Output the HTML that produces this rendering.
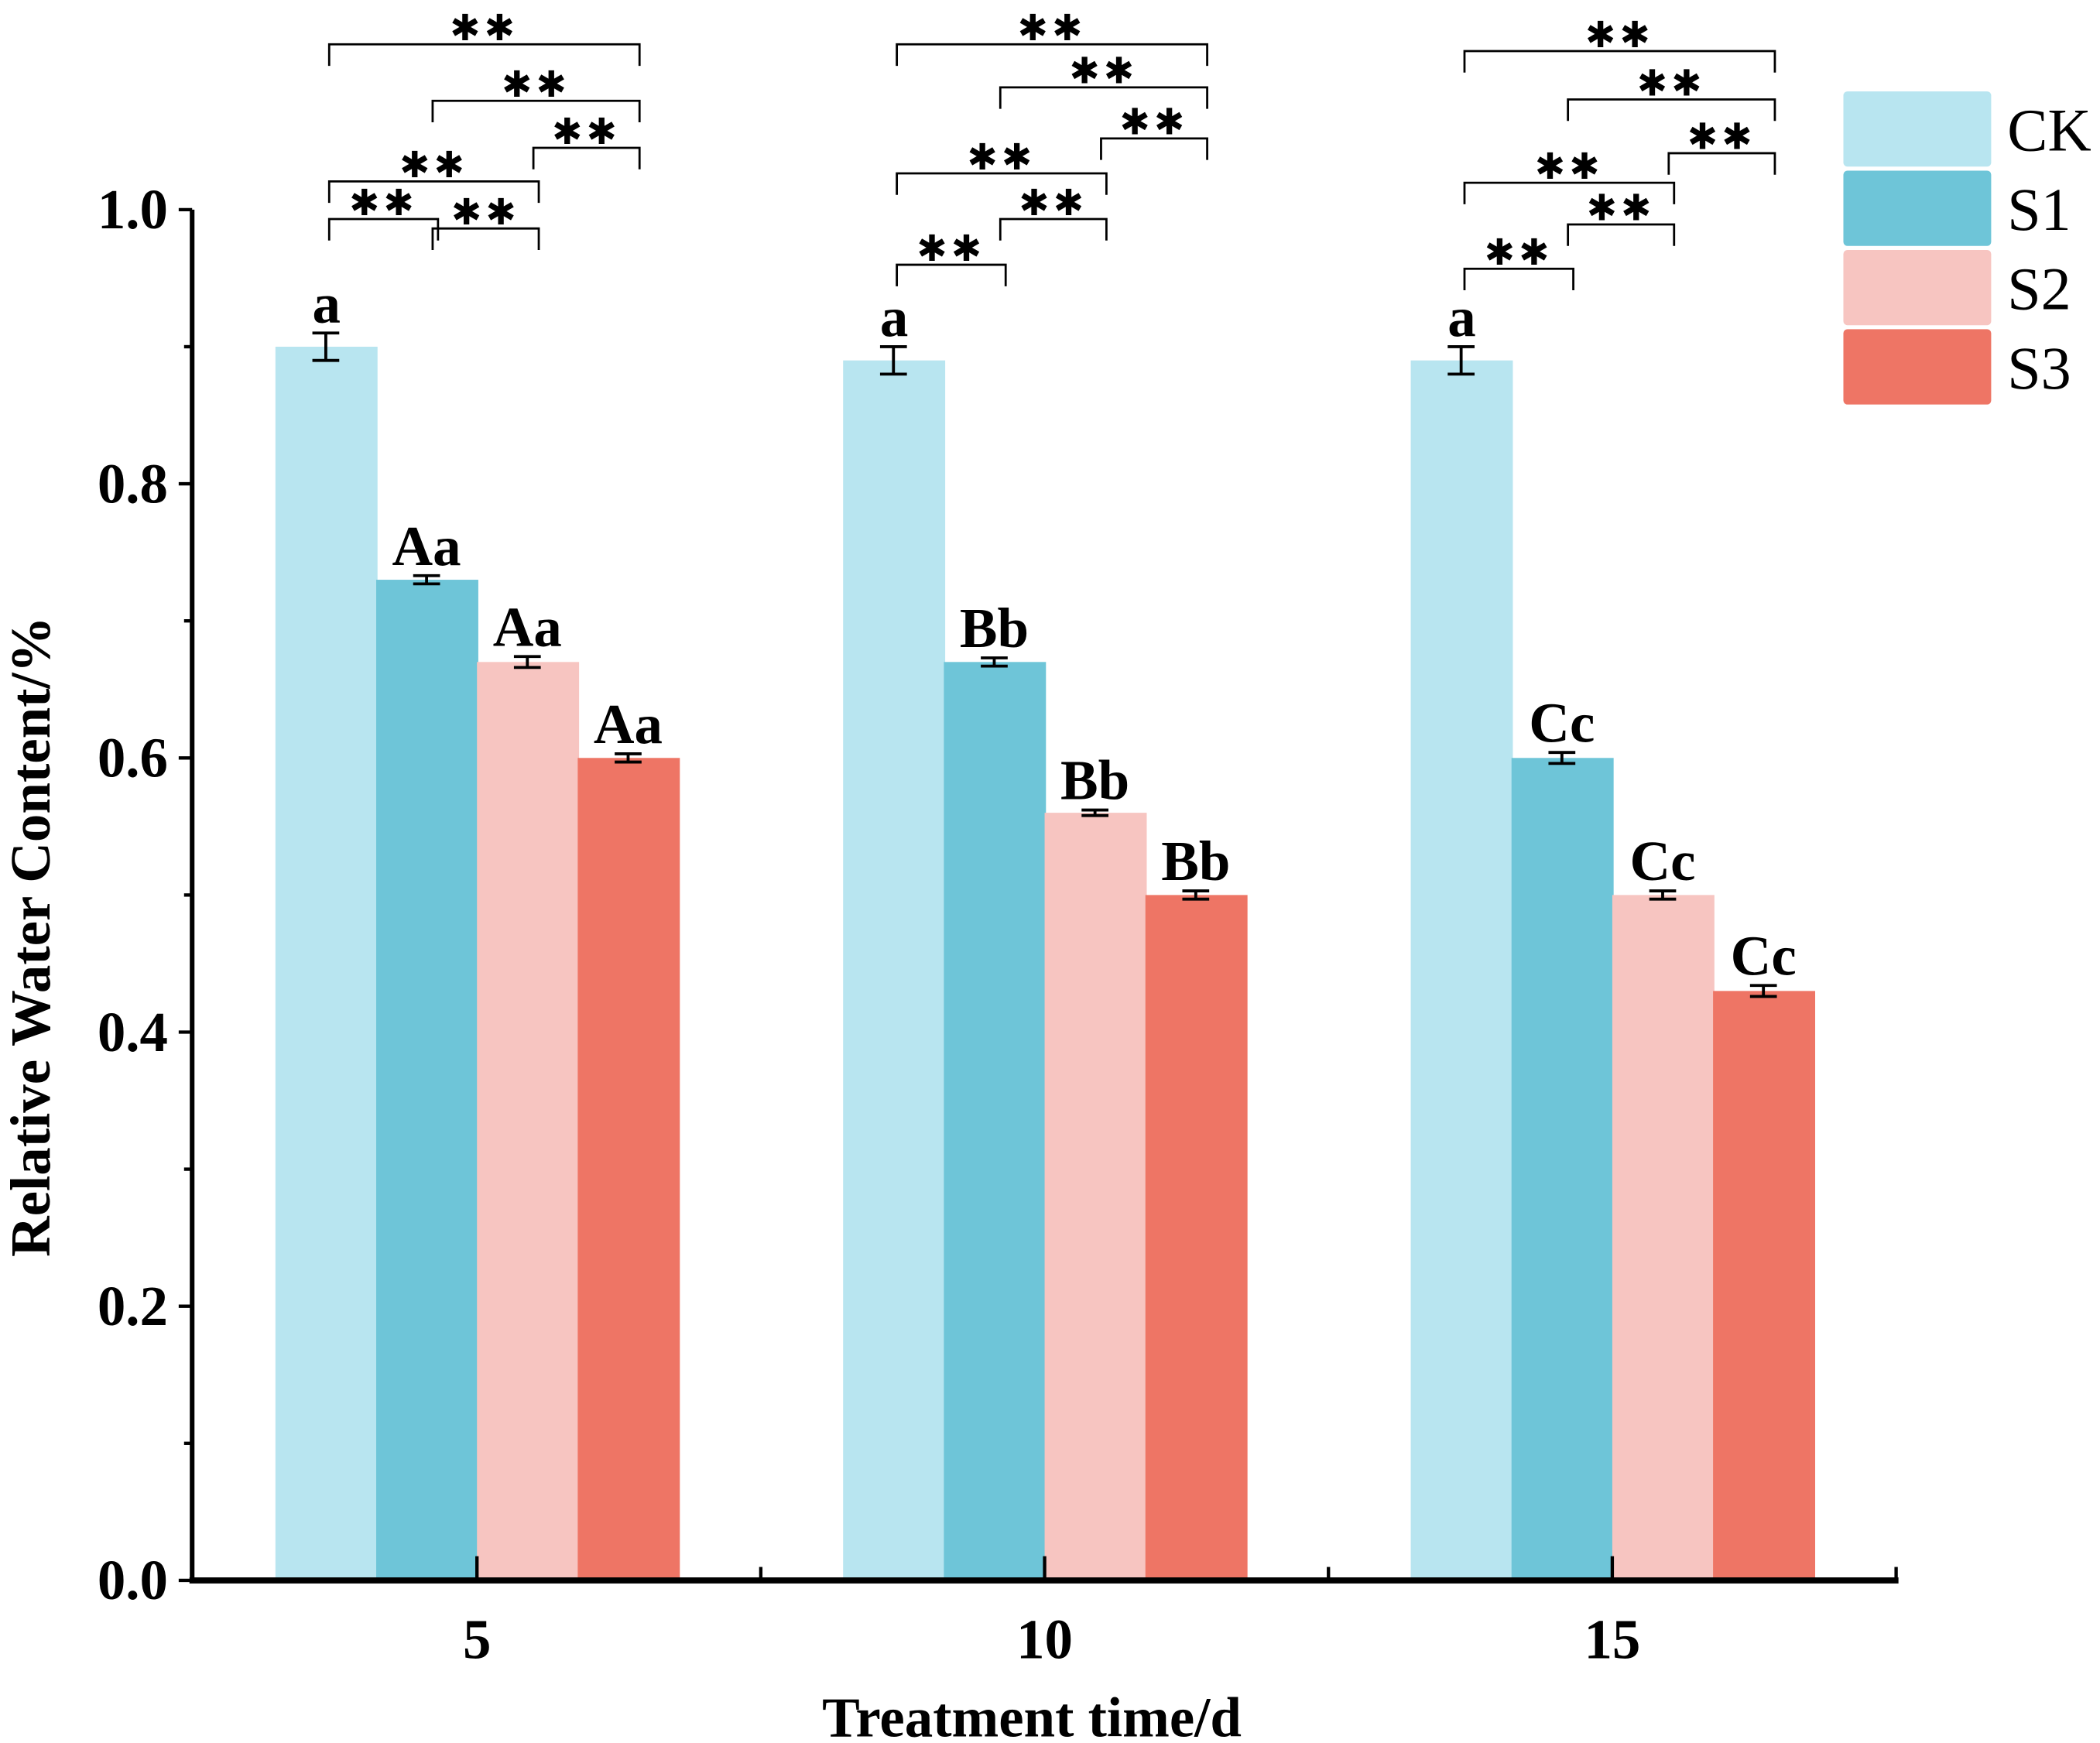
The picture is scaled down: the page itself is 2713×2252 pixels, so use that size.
<!DOCTYPE html>
<html><head><meta charset="utf-8"><style>html,body{margin:0;padding:0;background:#fff}svg{display:block}</style></head>
<body>
<svg id="chart" xmlns="http://www.w3.org/2000/svg" width="2713" height="2252" viewBox="0 0 1563 1297" preserveAspectRatio="none" font-family="Liberation Serif, serif">
<rect x="0" y="0" width="1563" height="1297" fill="#fff"/>
<g id="plot"></g>
</svg>
<script>
const categories = ["5","10","15"];
const seriesNames = ["CK","S1","S2","S3"];
const ckValues = [0.90,0.89,0.89];
const s1Values = [0.73,0.67,0.60];
const s2Values = [0.67,0.56,0.50];
const s3Values = [0.60,0.50,0.43];
const ckErr = [0.010,0.010,0.010];
const s1Err = [0.003,0.003,0.004];
const s2Err = [0.004,0.002,0.003];
const s3Err = [0.003,0.003,0.004];
const s1Letters = ["Aa","Bb","Cc"];
const s2Letters = ["Aa","Bb","Cc"];
const s3Letters = ["Aa","Bb","Cc"];
const ckLetters = ["a","a","a"];
const yTickLabels = ["0.0","0.2","0.4","0.6","0.8","1.0"];
const sigPairs = [[0,1],[1,2],[0,2],[2,3],[1,3],[0,3]];
const sigLabels = ["**","**","**","**","**","**"];

const colors = ["#b8e5f0","#6ec5d8","#f7c5c1","#ee7565"];
const NS = "http://www.w3.org/2000/svg";
const plot = document.getElementById('plot');
const X0 = 143, X1 = 1413, Y0 = 1176, Ytop = 156;
function yScale(v){ return Y0 - (Y0 - Ytop) * v / 1.0; }
const groupW = 422.5, barW = 75;
function groupCenter(i){ return 355 + i * groupW; }
function barX(g, s){ return groupCenter(g) - 2 * barW + s * barW; }
function mk(tag, attrs, parent){ const e = document.createElementNS(NS, tag); for (const k in attrs) e.setAttribute(k, attrs[k]); (parent||plot).appendChild(e); return e; }

const allVals = [ckValues, s1Values, s2Values, s3Values];
const allErr = [ckErr, s1Err, s2Err, s3Err];
const allLetters = [ckLetters, s1Letters, s2Letters, s3Letters];

categories.forEach((c, g) => {
  allVals.forEach((vals, s) => {
    const v = vals[g];
    const r = mk('rect', {x: barX(g,s), y: yScale(v), width: barW + 1, height: Y0 - yScale(v), fill: colors[s]});
    
    
  });
});
categories.forEach((c, g) => {
  allVals.forEach((vals, s) => {
    const v = vals[g], e = allErr[s][g];
    const cx = barX(g,s) + barW/2;
    const eg = mk('g', {stroke:'#000','stroke-width':2.2, fill:'none'});
    
    
    mk('line', {x1:cx, x2:cx, y1:yScale(v+e), y2:yScale(v-e)}, eg);
    mk('line', {x1:cx-10, x2:cx+10, y1:yScale(v+e), y2:yScale(v+e)}, eg);
    mk('line', {x1:cx-10, x2:cx+10, y1:yScale(v-e), y2:yScale(v-e)}, eg);
    const lx = s === 0 ? barX(g,s) + 38 : cx;
    const t = mk('text', {x: lx, y: yScale(v+e) - 8, 'text-anchor':'middle', 'font-size':42, 'font-weight':'bold'});
    t.textContent = allLetters[s][g];
    
    
  });
});
const bracketY = [[163,170,135,110,75,33],[197,163,129,103,65,33],[200,167,136,114,74,38]];
categories.forEach((c, g) => {
  sigPairs.forEach((p, k) => {
    const xa = barX(g,p[0]) + 40 + (p[0]===0?0:2);
    const xb = barX(g,p[1]) + 46;
    const y = bracketY[g][k];
    const bg = mk('g', {});
    
    
    mk('path', {d:`M${xa},${y+16} V${y} H${xb} V${y+16}`, stroke:'#000','stroke-width':1.6, fill:'none'}, bg);
    const t = mk('text', {x:(xa+xb)/2, y:y - 3, 'text-anchor':'middle','font-size':27,'font-family':'DejaVu Sans, sans-serif','letter-spacing':'3'}, bg);
    t.textContent = sigLabels[k].replace(/\*/g, '\u2731');
  });
});
const ax = mk('g', {stroke:'#000', fill:'none'});


mk('line', {x1:X0, x2:X0, y1:Ytop, y2:Y0+2, 'stroke-width':3.5}, ax);
mk('line', {x1:X0-2, x2:X1, y1:Y0, y2:Y0, 'stroke-width':4.5}, ax);
for (let i = 0; i <= 10; i++) {
  const v = i * 0.1, y = yScale(v);
  mk('line', {x1:X0 - (i%2===0?10:6), x2:X0, y1:y, y2:y, 'stroke-width':2.5}, ax);
}
yTickLabels.forEach((lab, i) => {
  const t = mk('text', {x: X0 - 18, y: yScale(i*0.2) + 14, 'text-anchor':'end', 'font-size':42, 'font-weight':'bold'});
  t.textContent = lab;
  
  
});
categories.forEach((c, g) => {
  const x = groupCenter(g);
  mk('line', {x1:x, x2:x, y1:Y0-18, y2:Y0, 'stroke-width':2.5}, ax);
  mk('line', {x1:x+groupW/2, x2:x+groupW/2, y1:Y0-10, y2:Y0, 'stroke-width':2.5}, ax);
  const t = mk('text', {x:x, y:Y0+58, 'text-anchor':'middle', 'font-size':42, 'font-weight':'bold'});
  t.textContent = c;
  
  
});
const xt = mk('text', {x:768, y:1292, 'text-anchor':'middle', 'font-size':42, 'font-weight':'bold'});
xt.textContent = 'Treatment time/d';


const yt = mk('text', {x:0, y:0, 'text-anchor':'middle', 'font-size':42, 'font-weight':'bold', transform:'translate(37,697) rotate(-90)'});
yt.textContent = 'Relative Water Content/%';


seriesNames.forEach((n, i) => {
  const lg = mk('g', {});
  
  
  const y = 68 + i * 59;
  mk('rect', {x:1372, y:y, width:110, height:56, rx:3, fill:colors[i]}, lg);
  const t = mk('text', {x:1494, y:y+44, 'font-size':45}, lg);
  t.textContent = n;
});
</script>
</body></html>
